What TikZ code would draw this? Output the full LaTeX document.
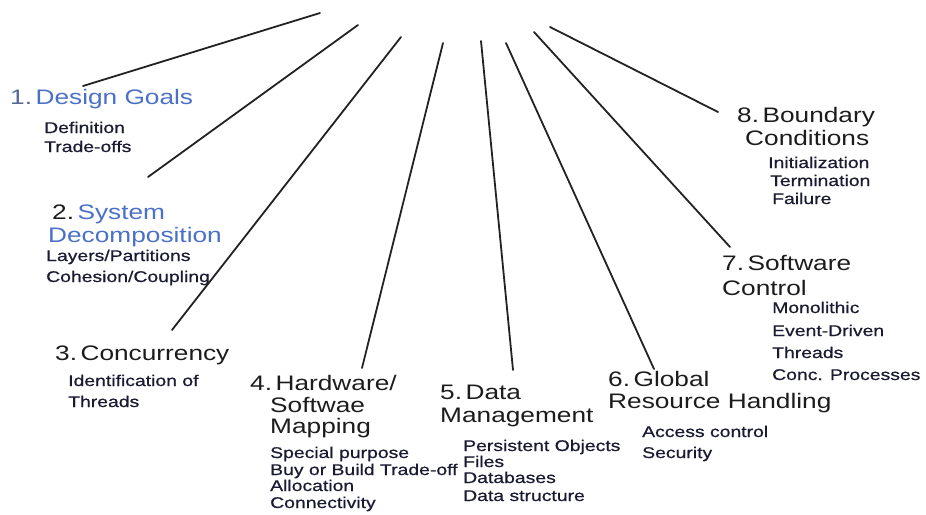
\documentclass[tikz,border=0pt]{standalone}
\usepackage{fontspec}
\setmainfont{Liberation Sans}
\newfontfamily\hdfont[FakeStretch=1.25]{Liberation Sans}
\newfontfamily\itfont[FakeStretch=1.25,FakeBold=0.6]{Liberation Sans}
\definecolor{hdblue}{RGB}{74,112,200}
\definecolor{numgrey}{RGB}{86,104,150}
\definecolor{hdblack}{RGB}{28,28,28}
\definecolor{itnavy}{RGB}{26,26,50}
\definecolor{linecol}{RGB}{34,34,34}
\tikzset{
  hd/.style={anchor=base west, inner sep=0pt, font=\hdfont\fontsize{21}{22}\selectfont, text=hdblack},
  it/.style={anchor=base west, inner sep=0pt, font=\itfont\fontsize{15.5}{17}\selectfont, text=itnavy},
  spoke/.style={draw=linecol, line width=1.8pt, line cap=round}
}
\begin{document}
\begin{tikzpicture}[x=1pt,y=-1pt]
\useasboundingbox (0,0) rectangle (926,514);
% spokes
\coordinate (s1a) at (320,13);  \coordinate (s1b) at (83,86);
\coordinate (s2a) at (358,25);  \coordinate (s2b) at (148,177);
\coordinate (s3a) at (401,37);  \coordinate (s3b) at (172,330);
\coordinate (s4a) at (443,43);  \coordinate (s4b) at (362,368);
\coordinate (s5a) at (481,41);  \coordinate (s5b) at (513,370);
\coordinate (s6a) at (506,43);  \coordinate (s6b) at (654,369);
\coordinate (s7a) at (534,32);  \coordinate (s7b) at (730,247);
\coordinate (s8a) at (550,27);  \coordinate (s8b) at (718,112);
\foreach \i in {1,...,8} \draw[spoke] (s\i a) -- (s\i b);
% 1
\node[hd] (h1) at (10,104) {\textcolor{numgrey}{1.}\,\textcolor{hdblue}{Design Goals}};
\node[it] (i1a) at (44,133) {Definition};
\node[it] (i1b) at (44,152) {Trade-offs};
% 2
\node[hd] (h2a) at (52,219) {2.\,\textcolor{hdblue}{System}};
\node[hd,text=hdblue] (h2b) at (48,242) {Decomposition};
\node[it] (i2a) at (46,261) {Layers/Partitions};
\node[it] (i2b) at (46,282) {Cohesion/Coupling};
% 3
\node[hd] (h3) at (55,360) {3.\,Concurrency};
\node[it] (i3a) at (68,386) {Identification of};
\node[it] (i3b) at (68,407) {Threads};
% 4
\node[hd] (h4a) at (250,390) {4.\,Hardware/};
\node[hd] (h4b) at (270,412) {Softwae};
\node[hd] (h4c) at (270,433) {Mapping};
\node[it] (i4a) at (270,458) {Special purpose};
\node[it] (i4b) at (270,475) {Buy or Build Trade-off};
\node[it] (i4c) at (270,491) {Allocation};
\node[it] (i4d) at (270,508) {Connectivity};
% 5
\node[hd] (h5a) at (440,399) {5.\,Data};
\node[hd] (h5b) at (440,422) {Management};
\node[it] (i5a) at (463,451) {Persistent Objects};
\node[it] (i5b) at (463,467) {Files};
\node[it] (i5c) at (463,483) {Databases};
\node[it] (i5d) at (463,501) {Data structure};
% 6
\node[hd] (h6a) at (608,386) {6.\,Global};
\node[hd] (h6b) at (608,408) {Resource Handling};
\node[it] (i6a) at (642,437) {Access control};
\node[it] (i6b) at (642,458) {Security};
% 7
\node[hd] (h7a) at (722,270) {7.\,Software};
\node[hd] (h7b) at (722,295) {Control};
\node[it] (i7a) at (772,313) {Monolithic};
\node[it] (i7b) at (772,336) {Event-Driven};
\node[it] (i7c) at (772,358) {Threads};
\node[it] (i7d) at (772,380) {Conc. Processes};
% 8
\node[hd] (h8a) at (737,122) {8.\,Boundary};
\node[hd] (h8b) at (745,145) {Conditions};
\node[it] (i8a) at (768,168) {Initialization};
\node[it] (i8b) at (770,186) {Termination};
\node[it] (i8c) at (772,204) {Failure};
\end{tikzpicture}
\end{document}
